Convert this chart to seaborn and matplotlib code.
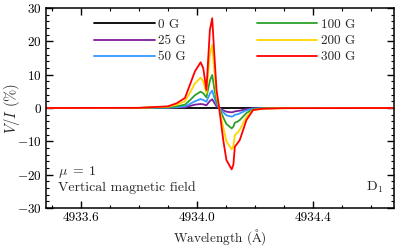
"""
Perfil de Stokes V/I da linha D1 para varios campos magneticos verticais (mu = 1).
"""
import matplotlib
matplotlib.use("Agg")
import matplotlib.pyplot as plt
import numpy as np
import pandas as pd
import seaborn as sns
from matplotlib.ticker import MultipleLocator

# comprimentos de onda (A)
WAVELENGTH = [
    4933.45, 4933.80, 4933.90, 4933.93, 4933.959, 4933.976, 4933.993, 4934.013,
    4934.022, 4934.033, 4934.045, 4934.053, 4934.060, 4934.068, 4934.077, 4934.091,
    4934.102, 4934.120, 4934.126, 4934.131, 4934.140, 4934.148, 4934.171, 4934.194,
    4934.228, 4934.30, 4934.70,
]

V_0G = [0.0] * len(WAVELENGTH)
V_25G = [0, 0.01, 0.05, 0.12, 0.25, 0.6, 1.0, 1.2, 1.1, 0.8, 2.1, 2.6, 1.6, 0.5, 0,
         -0.7, -1.1, -1.3, -1.2, -1.0, -0.9, -0.8, -0.35, -0.1, -0.02, 0, 0]
V_50G = [0, 0.02, 0.1, 0.25, 0.5, 1.2, 2.0, 2.7, 2.4, 1.9, 4.3, 5.2, 3.2, 1.1, 0,
         -1.3, -2.2, -2.6, -2.4, -2.0, -1.9, -1.6, -0.7, -0.2, -0.05, 0, 0]
V_100G = [0, 0.03, 0.2, 0.5, 1.0, 2.3, 3.8, 4.9, 4.4, 3.2, 8.2, 9.9, 6.0, 2.0, 0,
          -2.8, -4.8, -6.1, -5.6, -4.4, -4.1, -3.6, -1.5, -0.4, -0.1, 0, 0]
V_200G = [0, 0.04, 0.4, 1.0, 2.0, 4.5, 7.3, 9.1, 8.0, 4.4, 16.0, 18.9, 11.5, 3.8, 0,
          -5.8, -10.0, -12.4, -11.5, -8.2, -7.4, -6.5, -2.6, -0.6, -0.2, -0.05, 0]
V_300G = [0, 0.05, 0.5, 1.4, 3.0, 6.9, 10.9, 13.7, 12.0, 5.4, 23.4, 26.9, 16.5, 5.4, 0,
          -9.6, -15.6, -18.4, -17.0, -11.6, -10.6, -9.6, -3.6, -0.6, -0.2, -0.05, 0]

ROTULOS = ["0 G", "25 G", "50 G", "100 G", "200 G", "300 G"]
SERIES = [V_0G, V_25G, V_50G, V_100G, V_200G, V_300G]
CORES = ["#000000", "#7e1e9c", "#3399ff", "#2ca02c", "#ffd500", "#ff0000"]

sns.set_style("ticks")
plt.rcParams.update({
    "font.family": "serif",
    "font.serif": ["cmr10", "DejaVu Serif"],
    "mathtext.fontset": "cm",
    "axes.formatter.use_mathtext": True,
    "axes.unicode_minus": True,
    "font.size": 9.5,
    "axes.linewidth": 1.1,
    "axes.edgecolor": "black",
    "xtick.direction": "in",
    "ytick.direction": "in",
    "xtick.top": True,
    "ytick.right": True,
    "xtick.color": "black",
    "ytick.color": "black",
})

df = pd.concat(
    [pd.DataFrame({"lam": WAVELENGTH, "v": serie, "campo": rotulo})
     for rotulo, serie in zip(ROTULOS, SERIES)],
    ignore_index=True,
)

fig = plt.figure(figsize=(4.03, 2.48), dpi=100)
ax = fig.add_axes([0.114, 0.161, 0.864, 0.807])

sns.lineplot(
    data=df, x="lam", y="v", hue="campo", hue_order=ROTULOS,
    palette=dict(zip(ROTULOS, CORES)), estimator=None, sort=False,
    linewidth=1.3, ax=ax,
)

ax.set_xlim(4933.48, 4934.68)
ax.set_ylim(-30, 30)
ax.xaxis.set_major_locator(MultipleLocator(0.4))
ax.xaxis.set_minor_locator(MultipleLocator(0.1))
ax.yaxis.set_major_locator(MultipleLocator(10))
ax.yaxis.set_minor_locator(MultipleLocator(2))
ax.xaxis.set_major_formatter(plt.FuncFormatter(lambda v, p: f"{v:.1f}"))
ax.tick_params(which="major", length=5, width=1.0, labelsize=9.5, pad=3)
ax.tick_params(which="minor", length=2.5, width=0.8)

ax.set_xlabel(r"Wavelength ($\mathrm{\AA}$)", fontsize=9.5, labelpad=2)
ax.set_ylabel(r"$V/I$ (%)", fontsize=10.5)
ax.yaxis.set_label_coords(-0.07, 0.5)

ax.text(0.035, 0.165, r"$\mu\;=\;1$", transform=ax.transAxes, fontsize=10)
ax.text(0.035, 0.085, "Vertical magnetic field", transform=ax.transAxes, fontsize=10)
ax.text(0.97, 0.085, r"D$_1$", transform=ax.transAxes, ha="right", fontsize=10)

handles, labels = ax.get_legend_handles_labels()
ax.legend(
    handles, labels, ncol=2, frameon=False, loc="upper left",
    bbox_to_anchor=(0.115, 0.985), handlelength=4.6, handletextpad=0.25,
    columnspacing=5.4, labelspacing=0.3, fontsize=9.5, borderaxespad=0.2,
)

fig.savefig("out.png", dpi=100)
